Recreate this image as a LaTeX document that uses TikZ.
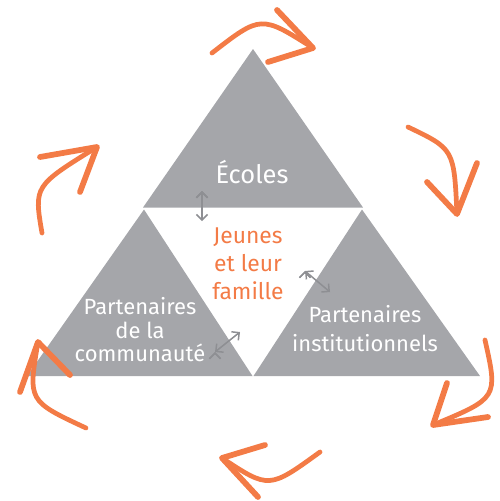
\documentclass[tikz,border=0pt]{standalone}
\usepackage{fontspec}
\setmainfont{Fira Sans}
\usepackage{xcolor}
\usetikzlibrary{arrows.meta,positioning}
\definecolor{trigrey}{HTML}{A5A6AA}
\definecolor{arrowgrey}{HTML}{8E8F93}
\definecolor{cycleorange}{HTML}{F37B46}

\begin{document}
\begin{tikzpicture}[x=0.2mm,y=-0.2mm,
  block/.style={fill=trigrey},
  lbl/.style={text=white,align=center,inner sep=0pt},
  link/.style={<->,draw=arrowgrey,line width=0.3mm,>={Straight Barb[length=1.1mm,width=2.2mm]}},
  shaft/.style={draw=cycleorange,line width=0.95mm,line cap=round},
  barb/.style={draw=cycleorange,line width=1.15mm,line cap=round,line join=round}]
\useasboundingbox (0,0) rectangle (500,501);
% \draw[help lines,step=50] (0,0) grid (500,501);
\fill[block] (253,49) -- (363,207.5) -- (143,207.5) -- cycle;
\fill[block] (144,209.5) -- (252.5,376) -- (27,376) -- cycle;
\fill[block] (362,209.5) -- (480,376) -- (253.5,376) -- cycle;
%
\node (ecoles) [lbl,font=\fontsize{14.5}{17}\selectfont] at (252,172) {Écoles};
\node (jeunes) [lbl,text=cycleorange,font=\fontsize{13}{16}\selectfont] at (248,264) {Jeunes\\et leur\\famille};
\node (commu) [lbl,font=\fontsize{12.5}{13.4}\selectfont] at (140,330) {Partenaires\\de la\\communauté};
\node (instit) [lbl,font=\fontsize{12.5}{16.5}\selectfont] at (365,329) {Partenaires\\institutionnels};
%
\coordinate (e1) at (202,191); \coordinate (e2) at (202,221);
\coordinate (i1) at (305,271); \coordinate (i2) at (330,292);
\coordinate (c1) at (215,352); \coordinate (c2) at (240,332);
\path[link] (e1) edge (e2);
\path[link] (i1) edge (i2);
\path[link] (c1) edge (c2);
%
\coordinate (t1) at (212,53);  \coordinate (h1) at (313,48);
\coordinate (t2) at (408,127); \coordinate (h2) at (457,214);
\coordinate (t3) at (485,340); \coordinate (h3) at (433,425);
\coordinate (t4) at (320,452); \coordinate (h4) at (222,458);
\coordinate (t5) at (86,428);  \coordinate (h5) at (38,342);
\coordinate (t6) at (42,233);  \coordinate (h6) at (97,147);
\draw[shaft] (t1) .. controls (261,15) .. (h1);
\draw[shaft] (t2) .. controls (454,149) .. (h2);
\draw[shaft] (t3) .. controls (498,398) .. (h3);
\draw[shaft] (t4) .. controls (269,489) .. (h4);
\draw[shaft] (t5) .. controls (28,401) .. (h5);
\draw[shaft] (t6) .. controls (34,186) .. (h6);
\draw[barb] (277,10) -- (h1) -- (268,62);
\draw[barb] (427,182) -- (h2) -- (477,163);
\draw[barb] (447,383) -- (h3) -- (488,417);
\draw[barb] (265,445) -- (h4) -- (258,497);
\draw[barb] (20,392) -- (h5) -- (70,375);
\draw[barb] (40,157) -- (h6) -- (80,192);
\end{tikzpicture}
\end{document}
